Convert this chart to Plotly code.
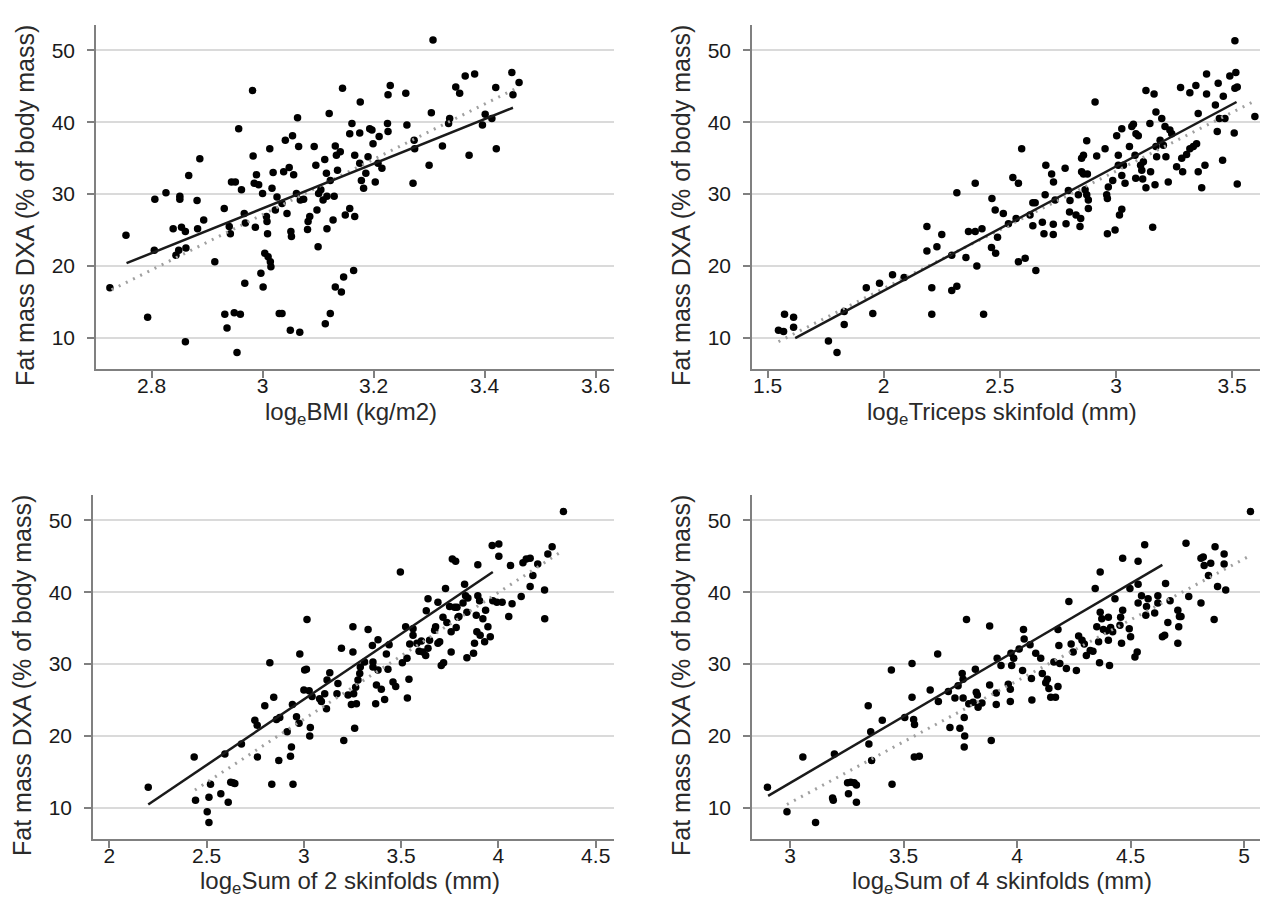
import plotly.graph_objects as go

# ---------------- data ----------------
bmi_x = [2.725, 2.754, 2.793, 2.805, 2.806, 2.826, 2.839, 2.844, 2.849, 2.851, 2.851, 2.854, 2.861, 2.862, 2.861, 2.867, 2.882, 2.883, 2.887, 2.894,
         2.914, 2.931, 2.932, 2.936, 2.94, 2.942, 2.944, 2.949, 2.951, 2.954, 2.957, 2.96, 2.962, 2.967, 2.968, 2.969, 2.982, 2.983, 2.985, 2.987,
         2.989, 2.993, 2.997, 3.001, 3.0, 3.004, 3.007, 3.008, 3.009, 3.01, 3.013, 3.014, 3.015, 3.017, 3.019, 3.023, 3.026, 3.03, 3.035, 3.035,
         3.038, 3.041, 3.044, 3.048, 3.05, 3.051, 3.052, 3.054, 3.056, 3.061, 3.063, 3.065, 3.067, 3.068, 3.074, 3.081, 3.082, 3.085, 3.093, 3.096,
         3.098, 3.1, 3.101, 3.105, 3.109, 3.112, 3.113, 3.115, 3.116, 3.12, 3.122, 3.116, 3.122, 3.127, 3.129, 3.131, 3.131, 3.133, 3.135, 3.14,
         3.142, 3.144, 3.146, 3.149, 3.157, 3.157, 3.161, 3.164, 3.166, 3.166, 3.175, 3.175, 3.176, 3.178, 3.182, 3.186, 3.19, 3.193, 3.197, 3.199,
         3.203, 3.208, 3.21, 3.215, 3.225, 3.226, 3.226, 3.23, 3.258, 3.26, 3.271, 3.273, 3.274, 3.3, 3.304, 3.307, 3.324, 3.337, 3.335, 3.348,
         3.355, 3.365, 3.372, 3.382, 3.396, 3.401, 3.413, 3.42, 3.421, 3.449, 3.451, 3.462]
bmi_y = [17.0, 24.3, 12.9, 22.2, 29.3, 30.2, 25.2, 21.5, 22.2, 29.7, 29.3, 25.4, 24.8, 22.5, 9.5, 32.6, 29.1, 25.2, 34.9, 26.4,
         20.6, 28.0, 13.3, 11.4, 25.5, 24.5, 31.7, 13.5, 31.7, 8.0, 39.1, 13.3, 30.6, 27.3, 17.6, 26.0, 44.4, 35.3, 31.5, 25.4,
         32.7, 31.3, 19.0, 17.1, 30.1, 21.8, 26.9, 26.2, 24.5, 21.3, 36.3, 20.6, 19.9, 30.8, 33.0, 27.8, 29.6, 13.4, 13.4, 28.7,
         33.1, 37.5, 27.3, 33.7, 11.1, 24.8, 24.1, 38.1, 32.7, 30.1, 40.6, 36.6, 10.8, 29.2, 29.3, 25.1, 26.2, 26.9, 36.6, 34.0,
         27.8, 22.7, 30.1, 30.6, 29.2, 34.8, 12.0, 32.9, 29.7, 41.2, 13.4, 25.2, 31.9, 26.4, 29.7, 17.1, 36.7, 35.4, 33.3, 35.9,
         16.4, 44.7, 18.5, 27.1, 28.0, 38.4, 39.8, 19.4, 35.4, 26.9, 34.3, 38.5, 42.8, 31.9, 30.8, 32.9, 35.2, 39.1, 38.9, 37.0,
         31.7, 34.3, 38.0, 33.6, 39.8, 43.8, 38.7, 45.1, 44.0, 39.6, 31.5, 37.5, 36.3, 34.0, 41.3, 51.4, 36.7, 40.5, 39.8, 44.9,
         44.0, 46.4, 35.4, 46.7, 39.6, 41.1, 40.5, 44.8, 36.3, 46.9, 43.8, 45.5]

tri_x = [1.547, 1.569, 1.573, 1.612, 1.612, 1.762, 1.799, 1.83, 1.83, 1.925, 1.953, 1.982, 2.038, 2.088, 2.186, 2.186, 2.207, 2.207, 2.229, 2.25,
         2.293, 2.293, 2.315, 2.315, 2.354, 2.365, 2.394, 2.394, 2.401, 2.423, 2.43, 2.466, 2.48, 2.464, 2.482, 2.49,
         2.515, 2.594, 2.556, 2.58, 2.57, 2.537, 2.58, 2.609, 2.655, 2.63, 2.642, 2.652, 2.642, 2.683, 2.69, 2.695, 2.698, 2.723, 2.731, 2.73,
         2.73, 2.738, 2.781, 2.785, 2.795, 2.8, 2.802, 2.828, 2.838, 2.845, 2.848, 2.852, 2.852, 2.86, 2.86, 2.867, 2.874, 2.877, 2.881, 2.881,
         2.874, 2.91, 2.917, 2.953, 2.96, 2.963, 2.967, 2.963, 2.986, 2.996, 3.003, 3.01, 3.01, 3.015, 3.025, 3.025, 3.025, 3.032, 3.039, 3.058,
         3.068, 3.075, 3.082, 3.086, 3.096, 3.085, 3.106, 3.111, 3.115, 3.118, 3.129, 3.129, 3.146, 3.149, 3.158, 3.164, 3.168, 3.172, 3.172, 3.175,
         3.19, 3.197, 3.204, 3.211, 3.215, 3.225, 3.232, 3.24, 3.261, 3.278, 3.283, 3.287, 3.304, 3.318, 3.318, 3.333, 3.344, 3.347, 3.354, 3.354,
         3.369, 3.383, 3.39, 3.39, 3.428, 3.436, 3.44, 3.445, 3.459, 3.462, 3.469, 3.49, 3.512, 3.516, 3.512, 3.522, 3.509, 3.522, 3.598]
tri_y = [11.1, 10.9, 13.3, 12.9, 11.5, 9.6, 8.0, 11.9, 13.7, 17.0, 13.4, 17.6, 18.8, 18.4, 25.5, 22.1, 17.0, 13.3, 22.7, 24.4,
         21.5, 16.6, 30.2, 17.2, 21.2, 24.8, 31.5, 24.8, 20.0, 25.2, 13.3, 29.4, 27.8, 22.6, 21.8, 24.0,
         27.3, 36.3, 32.3, 31.5, 26.6, 25.9, 20.6, 21.1, 19.4, 27.1, 28.8, 28.8, 25.6, 26.1, 24.5, 29.9, 34.0, 32.8, 31.7, 25.8,
         24.4, 29.2, 33.6, 25.9, 30.5, 27.5, 29.1, 27.1, 29.9, 25.5, 26.6, 33.1, 35.0, 35.4, 32.8, 30.6, 29.9, 32.8, 29.2, 28.0,
         37.4, 42.8, 35.3, 36.3, 29.9, 29.4, 31.0, 24.5, 31.9, 25.0, 38.1, 35.4, 34.0, 27.1, 39.1, 32.6, 27.9, 34.0, 31.5, 36.6,
         39.4, 39.7, 35.4, 38.4, 38.1, 32.2, 34.0, 33.3, 32.1, 34.5, 44.4, 30.9, 39.8, 33.1, 25.4, 43.9, 31.3, 41.4, 36.6, 35.2,
         37.5, 40.5, 36.8, 39.4, 35.2, 31.7, 38.9, 38.4, 33.8, 44.8, 35.0, 33.1, 35.5, 44.1, 36.3, 36.6, 45.1, 37.0, 41.2, 33.1,
         30.9, 34.0, 46.7, 43.9, 42.4, 38.7, 45.4, 40.5, 34.7, 43.6, 40.5, 46.4, 51.3, 46.9, 44.7, 44.9, 38.5, 31.4, 40.8]

sum2_x = [2.2, 2.436, 2.443, 2.503, 2.512, 2.512, 2.52, 2.573, 2.611, 2.624, 2.636, 2.645, 2.594, 2.679, 2.748, 2.76, 2.761, 2.799, 2.825, 2.835,
          2.845, 2.859, 2.876, 2.871, 2.914, 2.931, 2.936, 2.941, 2.944, 2.962, 2.975, 2.979, 3.0, 3.004, 3.013, 3.016, 3.027, 3.03, 3.033, 3.042,
          3.081, 3.09, 3.107, 3.116, 3.119, 3.133, 3.17, 3.175, 3.193, 3.205, 3.227, 3.244, 3.252, 3.252, 3.256, 3.261, 3.266, 3.27, 3.278, 3.287,
          3.29, 3.312, 3.33,
          3.352, 3.355, 3.355, 3.381, 3.381, 3.373, 3.369, 3.398, 3.415, 3.424, 3.432, 3.438, 3.458, 3.472, 3.496, 3.506, 3.523, 3.53, 3.532, 3.54,
          3.544, 3.561, 3.561, 3.581, 3.592, 3.604, 3.612, 3.626, 3.629, 3.638, 3.638, 3.646, 3.672, 3.677, 3.689, 3.698, 3.689, 3.706, 3.718, 3.715,
          3.728, 3.735, 3.757, 3.749, 3.757, 3.763, 3.78, 3.775, 3.783, 3.787, 3.792, 3.797, 3.818, 3.826, 3.831, 3.838, 3.838, 3.843, 3.872, 3.877,
          3.886, 3.889, 3.894, 3.894, 3.903, 3.906, 3.92, 3.929, 3.934, 3.946, 3.958, 3.968, 3.971, 3.992, 4.002, 4.002, 4.019, 4.053, 4.062, 4.07,
          4.117, 4.126, 4.143, 4.163, 4.163, 4.177, 4.202, 4.237, 4.238, 4.254, 4.276, 4.334]
sum2_y = [12.9, 17.1, 11.1, 9.5, 8.0, 11.5, 13.3, 12.0, 10.8, 13.6, 13.5, 13.4, 17.5, 18.9, 22.2, 21.5, 17.1, 24.2, 30.2, 13.3,
          25.4, 22.3, 22.6, 16.6, 20.6, 17.2, 18.5, 24.4, 13.3, 22.7, 21.8, 31.4, 26.4, 29.2, 29.3, 36.2, 26.3, 20.0, 21.2, 25.5,
          25.2, 24.8, 25.9, 23.8, 27.8, 28.8, 25.9, 27.3, 32.2, 19.4, 25.7, 24.4, 35.2, 31.7, 25.9, 21.1, 26.8, 24.5, 27.8, 28.7,
          29.6, 30.3, 34.8,
          32.6, 30.3, 29.6, 33.4, 29.2, 27.1, 24.5, 26.5, 25.1, 31.4, 29.3, 32.7, 27.5, 26.9, 42.8, 30.2, 35.2, 30.8, 25.3, 27.9,
          32.8, 34.0, 34.9, 32.9, 31.8, 33.2, 31.7, 31.2, 37.4, 39.1, 32.2, 33.3, 34.7, 35.2, 32.9, 33.1, 38.6, 29.8, 30.2, 36.5,
          40.5, 35.8, 34.5, 38.0, 31.7, 44.6, 44.3, 37.9, 35.1, 37.9, 36.5, 36.6, 38.5, 41.1, 39.5, 30.9, 37.2, 39.2, 31.5, 32.9,
          36.8, 34.5, 43.8, 39.5, 38.8, 34.0, 36.3, 33.1, 37.5, 35.2, 33.8, 46.5, 38.8, 38.6, 46.7, 45.0, 38.6, 36.6, 43.7, 38.4,
          39.4, 44.1, 44.6, 44.7, 40.8, 42.3, 43.9, 40.3, 36.3, 45.3, 46.3, 51.2]

sum4_x = [2.9, 2.986, 3.056, 3.112, 3.187, 3.19, 3.195, 3.253, 3.257, 3.267, 3.282, 3.292, 3.292, 3.344, 3.347, 3.355, 3.359, 3.406, 3.446, 3.449,
          3.505, 3.537, 3.537, 3.544, 3.548, 3.547, 3.569, 3.617, 3.65, 3.653, 3.697, 3.704, 3.726, 3.74, 3.748, 3.758, 3.762, 3.767, 3.769, 3.767,
          3.777, 3.762, 3.787, 3.806, 3.816, 3.82, 3.825, 3.828, 3.845, 3.879, 3.879, 3.886, 3.908, 3.908, 3.912,
          3.929, 3.961, 3.97, 3.97, 3.973, 3.976, 3.985, 4.009, 4.024, 4.028, 4.031, 4.057, 4.063, 4.065, 4.082, 4.104, 4.111, 4.126, 4.133, 4.14,
          4.148, 4.162, 4.169, 4.18, 4.18, 4.184, 4.188, 4.217, 4.228, 4.238, 4.247, 4.261, 4.271, 4.286, 4.296, 4.305, 4.322, 4.334, 4.344, 4.351,
          4.359, 4.363, 4.366, 4.366, 4.373, 4.38, 4.392, 4.402, 4.402, 4.407, 4.412, 4.421, 4.431, 4.453, 4.456, 4.46, 4.465, 4.465, 4.494, 4.497,
          4.5, 4.519, 4.529, 4.533, 4.533, 4.533, 4.548, 4.562, 4.567, 4.57, 4.577, 4.606, 4.62, 4.62, 4.64, 4.65, 4.654, 4.664, 4.674, 4.708,
          4.708, 4.715, 4.712, 4.722, 4.744, 4.756, 4.81, 4.81, 4.82, 4.824, 4.843, 4.853, 4.868, 4.872, 4.883, 4.912, 4.912, 4.919, 5.028]
sum4_y = [12.9, 9.5, 17.1, 8.0, 11.4, 11.1, 17.5, 13.5, 12.0, 13.6, 13.5, 13.2, 10.8, 24.2, 18.9, 20.6, 16.6, 22.2, 29.2, 13.3,
          22.6, 30.1, 25.4, 22.3, 21.6, 17.1, 17.2, 26.4, 31.4, 24.8, 26.2, 21.2, 25.3, 27.0, 21.1, 28.7, 27.9, 22.6, 20.0, 18.5,
          36.2, 25.3, 24.5, 24.7, 29.3, 26.1, 25.7, 24.0, 24.6, 35.3, 27.1, 19.4, 26.0, 24.4, 30.8,
          29.8, 27.2, 26.5, 24.8, 31.5, 29.8, 30.8, 32.1, 29.1, 34.8, 33.5, 32.7, 28.0, 25.0, 31.5, 30.8, 28.7, 27.4, 27.9, 26.6,
          25.4, 30.3, 25.4, 34.8, 26.9, 32.6, 30.1, 29.4, 38.7, 32.8, 31.7, 29.1, 33.9, 33.3, 32.8, 31.2, 31.9, 31.8, 40.5, 35.2,
          33.1, 30.2, 42.8, 37.2, 36.3, 34.8, 34.6, 36.5, 33.3, 29.8, 35.1, 34.5, 39.1, 35.4, 36.5, 32.9, 37.5, 44.7, 34.9, 40.5,
          33.8, 31.0, 31.7, 44.3, 41.1, 38.5, 39.5, 46.6, 36.8, 38.0, 39.1, 37.1, 39.5, 38.5, 33.8, 34.0, 41.2, 35.8, 38.8, 32.9,
          37.5, 36.6, 35.2, 36.6, 46.8, 39.4, 38.5, 44.7, 44.9, 43.7, 42.3, 44.0, 36.2, 46.3, 40.8, 45.3, 43.9, 40.3, 51.2]

# fitted lines (end points): solid and dotted
bmi_fit_x, bmi_fit_y = [2.755, 3.451], [20.4, 42.0]
bmi_dot_x, bmi_dot_y = [2.728, 3.462], [16.7, 44.9]
tri_fit_x, tri_fit_y = [1.619, 3.519], [10.0, 42.8]
tri_dot_x, tri_dot_y = [1.547, 3.595], [9.5, 42.9]
sum2_fit_x, sum2_fit_y = [2.2, 3.971], [10.5, 42.8]
sum2_dot_x, sum2_dot_y = [2.44, 4.31], [12.5, 45.4]
sum4_fit_x, sum4_fit_y = [2.903, 4.64], [11.7, 43.8]
sum4_dot_x, sum4_dot_y = [2.986, 5.028], [10.5, 45.1]

x_titles = ["log<sub>e</sub>BMI (kg/m2)", "log<sub>e</sub>Triceps skinfold (mm)",
            "log<sub>e</sub>Sum of 2 skinfolds (mm)", "log<sub>e</sub>Sum of 4 skinfolds (mm)"]
y_title = "Fat mass DXA (% of body mass)"
x_ticks = [[2.8, 3, 3.2, 3.4, 3.6], [1.5, 2, 2.5, 3, 3.5], [2, 2.5, 3, 3.5, 4, 4.5], [3, 3.5, 4, 4.5, 5]]
y_ticks = [10, 20, 30, 40, 50]

# ---------------- figure ----------------
PAGE_W, PAGE_H = 1269, 907
OFF = 8                       # default body margin of the html page
W, H = PAGE_W - 2 * OFF, PAGE_H - 2 * OFF
FONT = "Liberation Sans, Arial, sans-serif"
fig = go.Figure()

panels = [
    (bmi_x, bmi_y, bmi_fit_x, bmi_fit_y, bmi_dot_x, bmi_dot_y),
    (tri_x, tri_y, tri_fit_x, tri_fit_y, tri_dot_x, tri_dot_y),
    (sum2_x, sum2_y, sum2_fit_x, sum2_fit_y, sum2_dot_x, sum2_dot_y),
    (sum4_x, sum4_y, sum4_fit_x, sum4_fit_y, sum4_dot_x, sum4_dot_y),
]
# pixel boxes on the page: left, right, top, bottom
boxes = [(96, 614, 25, 369), (752, 1260, 25, 369), (93, 614, 495, 839), (752, 1260, 495, 839)]
title_gap = [45, 45, 43, 43]
x_ranges = [[2.70, 3.633], [1.433, 3.62], [1.916, 4.594], [2.832, 5.07]]
y_range = [5.7, 53.5]


def fx_(px):
    return (px - OFF) / W


def fy_(py):
    return 1 - (py - OFF) / H


for i, (px, py, fx, fy, dx, dy) in enumerate(panels):
    sfx = "" if i == 0 else str(i + 1)
    xa, ya = "x" + sfx, "y" + sfx
    fig.add_trace(go.Scatter(x=px, y=py, mode="markers", xaxis=xa, yaxis=ya,
                             marker=dict(color="black", size=7.5), showlegend=False))
    fig.add_trace(go.Scatter(x=dx, y=dy, mode="lines", xaxis=xa, yaxis=ya,
                             line=dict(color="#a0a0a0", width=3, dash="2px,6px"), showlegend=False))
    fig.add_trace(go.Scatter(x=fx, y=fy, mode="lines", xaxis=xa, yaxis=ya,
                             line=dict(color="#1a1a1a", width=2.5), showlegend=False))
    l, r, t, b = boxes[i]
    common = dict(showline=True, linecolor="#808080", linewidth=1.5, ticks="outside", ticklen=7,
                  tickcolor="#808080", tickwidth=1.5, zeroline=False,
                  tickfont=dict(family=FONT, size=21, color="#1a1a1a"))
    fig.layout["xaxis" + sfx] = dict(domain=[fx_(l), fx_(r)], range=x_ranges[i], anchor=ya,
                                     tickvals=x_ticks[i], ticktext=[f"{v:g}" for v in x_ticks[i]],
                                     showgrid=False, ticklabelstandoff=-10, **common)
    fig.layout["yaxis" + sfx] = dict(domain=[fy_(b), fy_(t)], range=y_range, anchor=xa,
                                     tickvals=y_ticks, showgrid=True, gridcolor="#dadada", gridwidth=2,
                                     ticklabelstandoff=8, **common)
    # axis titles
    fig.add_annotation(text=x_titles[i], xref="paper", yref="paper",
                       x=fx_((l + r) / 2 - 4), y=fy_(b + title_gap[i]), showarrow=False,
                       font=dict(family=FONT, size=24, color="#2a2a2a"), xanchor="center", yanchor="middle")
    fig.add_annotation(text=y_title, xref="paper", yref="paper", textangle=-90,
                       x=fx_(l - 71), y=fy_((t + b) / 2 + 9), showarrow=False,
                       font=dict(family=FONT, size=25, color="#2a2a2a"), xanchor="center", yanchor="middle")

fig.update_layout(width=W, height=H, margin=dict(l=0, r=0, t=0, b=0),
                  paper_bgcolor="white", plot_bgcolor="white", showlegend=False)
fig.write_html("out.html")
